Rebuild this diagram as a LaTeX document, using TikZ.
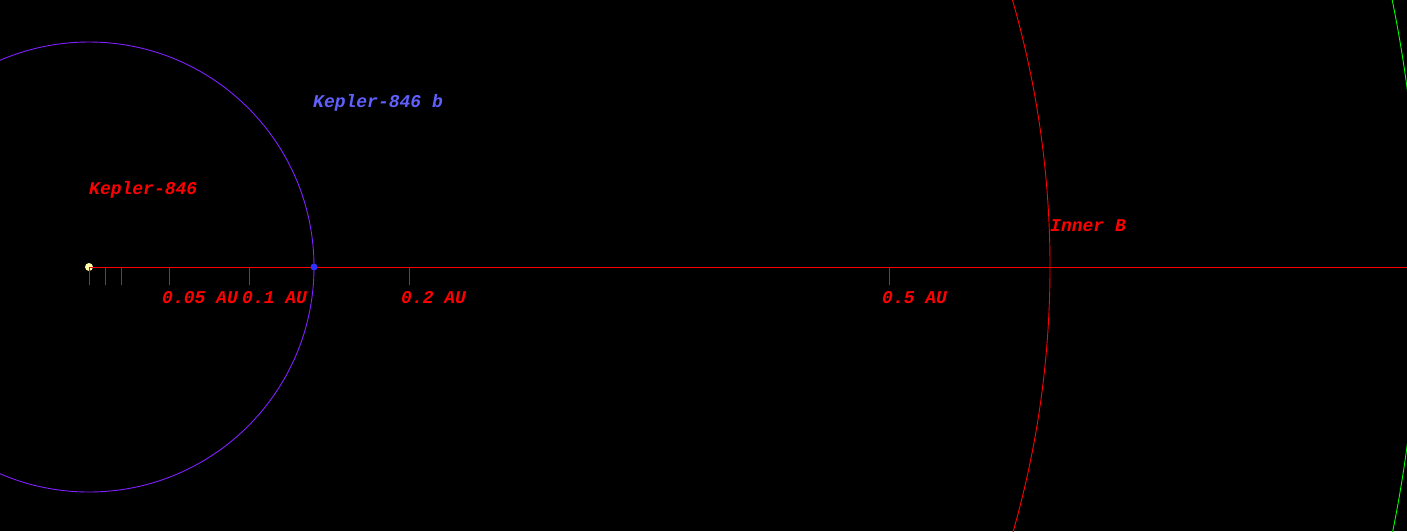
\documentclass[tikz,border=0pt]{standalone}
\usepackage{fontspec}
\newfontfamily\orbfont{Liberation Mono}
\begin{document}
\begin{tikzpicture}[x=1pt,y=-1pt,
  lbl/.style={anchor=base west,inner sep=0pt,font=\orbfont\bfseries\itshape\fontsize{18}{20}\selectfont},
  tick/.style={draw=red,line width=0.8pt}]
\fill[black] (0,0) rectangle (1407,531);
\useasboundingbox (0,0) rectangle (1407,531);
\begin{scope}
\clip (0,0) rectangle (1407,531);
% orbits
\draw[color={rgb,255:red,128;green,32;blue,255},line width=0.9pt] (89,267) circle[radius=225];
\draw[red,line width=0.9pt] (89,267) circle[radius=961];
\draw[green,line width=0.9pt] (89,267) circle[radius=1330];
% axis
\coordinate (axend) at (1407,267);
\node[circle,fill={rgb,255:red,255;green,255;blue,170},minimum size=8pt,inner sep=0pt] (star) at (89,267) {};
\draw[red,line width=0.8pt] (star.center) -- (axend);
\foreach \x in {89,105,121,169,249,409,889}{\draw[tick] (\x,267) -- (\x,285);}
\node[circle,fill={rgb,255:red,48;green,48;blue,255},minimum size=7pt,inner sep=0pt] (planet) at (314,267) {};
\end{scope}
% labels
\node[lbl,text=red] (starlbl) at (89,194) {Kepler-846};
\node[lbl,text={rgb,255:red,96;green,96;blue,255}] (planetlbl) at (313,107) {Kepler-846 b};
\node[lbl,text=red] (innerb) at (1050,231) {Inner B};
\node[lbl,text=red] (t1) at (162,303) {0.05 AU};
\node[lbl,text=red] (t2) at (242,303) {0.1 AU};
\node[lbl,text=red] (t3) at (401,303) {0.2 AU};
\node[lbl,text=red] (t4) at (882,303) {0.5 AU};
\end{tikzpicture}
\end{document}
